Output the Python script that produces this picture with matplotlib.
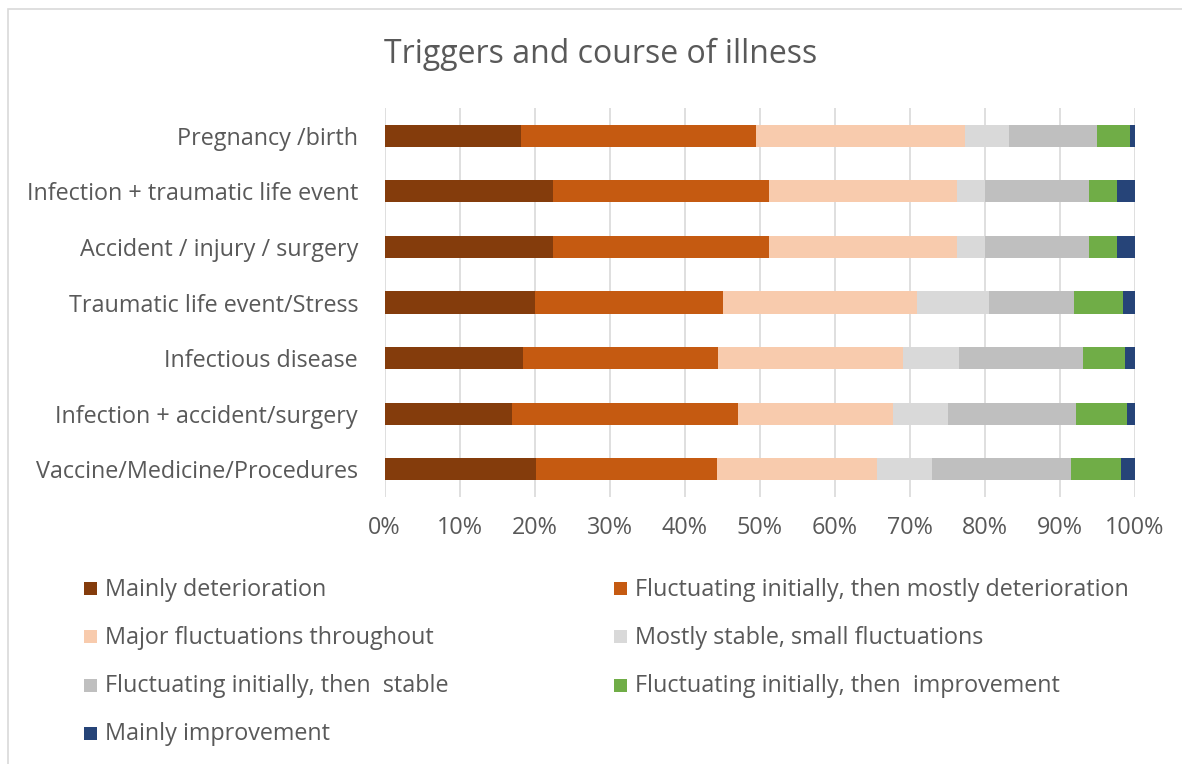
import matplotlib
matplotlib.use("Agg")
import matplotlib.pyplot as plt
from matplotlib.patches import Rectangle
import numpy as np

categories = [
    "Pregnancy /birth",
    "Infection + traumatic life event",
    "Accident / injury / surgery",
    "Traumatic life event/Stress",
    "Infectious disease",
    "Infection + accident/surgery",
    "Vaccine/Medicine/Procedures",
]

series_names = [
    "Mainly deterioration",
    "Fluctuating initially, then mostly deterioration",
    "Major fluctuations throughout",
    "Mostly stable, small fluctuations",
    "Fluctuating initially, then  stable",
    "Fluctuating initially, then  improvement",
    "Mainly improvement",
]

colors = ["#843C0C", "#C55A11", "#F8CBAD", "#D9D9D9", "#BFBFBF", "#70AD47", "#264478"]

# percentages per category (same order as categories)
mainly_deterioration = [18.2, 22.5, 22.5, 20.1, 18.5, 17.0, 20.2]
fluct_then_deterioration = [31.3, 28.7, 28.7, 25.0, 25.9, 30.1, 24.1]
major_fluctuations = [27.9, 25.1, 25.1, 25.8, 24.7, 20.6, 21.3]
mostly_stable = [5.8, 3.7, 3.7, 9.6, 7.4, 7.4, 7.4]
fluct_then_stable = [11.7, 13.9, 13.9, 11.4, 16.6, 17.0, 18.5]
fluct_then_improvement = [4.5, 3.7, 3.7, 6.5, 5.6, 6.8, 6.7]
mainly_improvement = [0.6, 2.4, 2.4, 1.6, 1.3, 1.1, 1.8]

series = [mainly_deterioration, fluct_then_deterioration, major_fluctuations,
          mostly_stable, fluct_then_stable, fluct_then_improvement, mainly_improvement]

plt.rcParams['font.family'] = ['Open Sans', 'DejaVu Sans']
TXT = "#595959"

W, H = 1182, 764
fig = plt.figure(figsize=(W / 100, H / 100), dpi=100)
fig.patch.set_facecolor("white")

# chart border
fig.patches.append(Rectangle((8 / W, -0.1), 1.2, 1 - 9 / H + 0.1, transform=fig.transFigure,
                             fill=False, edgecolor="#D9D9D9", linewidth=1.2))

ax = fig.add_axes([384.5 / W, 1 - 497 / H, (1135 - 384.5) / W, (497 - 108) / H])

data = np.array(series, dtype=float)
totals = data.sum(axis=0)
data = data / totals * 100.0
y = np.arange(len(categories))
left = np.zeros(len(categories))
for vals, c, name in zip(data, colors, series_names):
    ax.barh(y, vals, left=left, height=0.4, color=c, edgecolor="none", label=name, zorder=3)
    left += vals

fs = 16.8
ax.set_xlim(0, 100)
ax.set_ylim(len(categories) - 0.5, -0.5)
ax.set_xticks(np.arange(0, 101, 10))
ax.set_xticklabels([f"{v}%" for v in range(0, 101, 10)])
ax.set_yticks(y)
ax.set_yticklabels(categories)
for s in ax.spines.values():
    s.set_visible(False)
ax.grid(axis="x", color="#D9D9D9", linewidth=1.2, zorder=0)
ax.set_axisbelow(True)
ax.tick_params(axis="both", length=0, colors=TXT, labelsize=fs)
ax.tick_params(axis="y", pad=19)
ax.tick_params(axis="x", pad=14)

fig.text(601 / W, 1 - 54 / H, "Triggers and course of illness", ha="center", va="center",
         fontsize=23, color=TXT)

# legend
col_x = [84, 614]
row_y = [588, 636, 685, 733]
sq = 13
for i, (name, c) in enumerate(zip(series_names, colors)):
    r, cidx = divmod(i, 2)
    x0 = col_x[cidx]
    yc = row_y[r]
    fig.patches.append(Rectangle((x0 / W, 1 - (yc + sq / 2) / H), sq / W, sq / H,
                                 transform=fig.transFigure, facecolor=c, edgecolor="none"))
    fig.text((x0 + 21) / W, 1 - (yc + 1.5) / H, name, ha="left", va="center",
             fontsize=fs, color=TXT)

fig.savefig("out.png", dpi=100, facecolor="white")
